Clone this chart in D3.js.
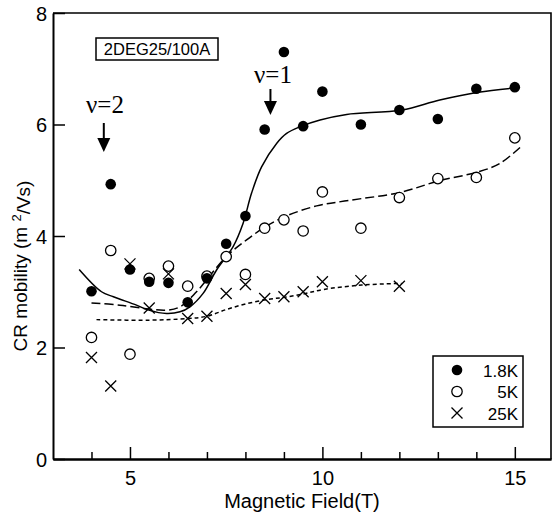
<!DOCTYPE html>
<html>
<head>
  <meta charset='utf-8'>
  <title>CR mobility vs magnetic field</title>
  <script src='https://cdn.jsdelivr.net/npm/d3@7/dist/d3.min.js'></script>
  <style>
    body { margin: 0; background: #fff; }
    text { font-family: 'Liberation Sans', Arial, sans-serif; fill: #000; }
  </style>
</head>
<body>
  <svg id='plot-area' width='553' height='512'></svg>
  <script>
    // measured points (field in T, mobility in m^2/Vs)
    const field18 = [4, 4.5, 5, 5.5, 6, 6.5, 7, 7.5, 8, 8.5, 9, 9.5, 10, 11, 12, 13, 14, 15];
    const mob18 = [3.01, 4.93, 3.40, 3.18, 3.16, 2.81, 3.24, 3.86, 4.36, 5.91, 7.30, 5.97, 6.59, 6.00, 6.26, 6.10, 6.64, 6.67];
    const field5 = [4, 4.5, 5, 5.5, 6, 6.5, 7, 7.5, 8, 8.5, 9, 9.5, 10, 11, 12, 13, 14, 15];
    const mob5 = [2.18, 3.74, 1.88, 3.24, 3.46, 3.10, 3.28, 3.63, 3.31, 4.14, 4.29, 4.09, 4.79, 4.14, 4.69, 5.03, 5.05, 5.76];
    const field25 = [4, 4.5, 5, 5.5, 6, 6.5, 7, 7.5, 8, 8.5, 9, 9.5, 10, 11, 12];
    const mob25 = [1.82, 1.31, 3.50, 2.71, 3.32, 2.52, 2.56, 2.97, 3.13, 2.88, 2.91, 3.00, 3.18, 3.20, 3.10];

    // guide curves
    const fitField18 = [3.68, 4.26, 4.57, 5.17, 5.49, 5.95, 6.3, 6.56, 6.9, 7.25, 7.68, 7.94, 8.16, 8.42, 8.81, 9.07, 9.42, 9.94, 10.63, 12.06, 13.05, 14.05, 15.06];
    const fitMob18 = [3.40, 3.00, 2.91, 2.76, 2.67, 2.61, 2.64, 2.73, 2.97, 3.39, 3.81, 4.23, 4.77, 5.24, 5.66, 5.84, 5.96, 6.08, 6.18, 6.26, 6.44, 6.58, 6.66];
    const fitField5 = [4.0, 4.74, 5.49, 5.95, 6.3, 6.73, 7.5, 8.03, 8.53, 9.03, 9.85, 10.71, 12.01, 13.03, 14.05, 14.61, 15.17];
    const fitMob5 = [2.80, 2.76, 2.69, 2.67, 2.73, 3.00, 3.63, 3.93, 4.17, 4.35, 4.54, 4.64, 4.78, 4.99, 5.15, 5.30, 5.61];
    const fitField25 = [4.13, 5.49, 6.49, 7.0, 7.5, 8.0, 8.55, 9.0, 9.5, 10.02, 11.02, 12.06];
    const fitMob25 = [2.50, 2.49, 2.52, 2.56, 2.68, 2.78, 2.86, 2.90, 2.96, 3.04, 3.12, 3.15];

    const majorX = [5, 10, 15];
    const minorX = [4, 6, 7, 8, 9, 11, 12, 13, 14];
    const ticksY = [0, 2, 4, 6, 8];
    const legendLabels = ['1.8K', '5K', '25K'];

    const svg = d3.select('#plot-area');
    const x = d3.scaleLinear().domain([3, 15.94]).range([53, 551]);
    const y = d3.scaleLinear().domain([0, 8]).range([459, 13]);

    // frame
    svg.append('path')
        .attr('d', `M${x(3)},${y(8)}H${x(15.94)}V${y(0)}`)
        .attr('fill', 'none').attr('stroke', '#000').attr('stroke-width', 1.6);

    const xMajor = svg.append('g')
        .attr('transform', `translate(0,${y(0)})`)
        .call(d3.axisBottom(x).tickValues(majorX).tickSizeInner(-12).tickSizeOuter(0).tickPadding(12));
    const xMinor = svg.append('g')
        .attr('transform', `translate(0,${y(0)})`)
        .call(d3.axisBottom(x).tickValues(minorX).tickSizeInner(-7).tickSizeOuter(0).tickFormat(''));
    const yAxis = svg.append('g')
        .attr('transform', `translate(${x(3)},0)`)
        .call(d3.axisLeft(y).tickValues(ticksY).tickSizeInner(-12).tickSizeOuter(0).tickPadding(6));
    [xMajor, xMinor, yAxis].forEach((a) => {
        a.attr('font-size', null).attr('font-family', null);
        a.select('.domain').attr('stroke-width', 2);
        a.selectAll('.tick line').attr('stroke-width', 1.5);
        a.selectAll('text').style('font-size', '20px');
    });
    yAxis.selectAll('text').attr('dx', '0').attr('dy', '0.36em');

    // axis titles
    svg.append('text')
        .attr('x', 302).attr('y', 508)
        .attr('text-anchor', 'middle')
        .style('font-size', '20px')
        .text('Magnetic Field(T)');
    const yt = svg.append('text')
        .attr('transform', 'translate(27,266) rotate(-90)')
        .attr('text-anchor', 'middle')
        .style('font-size', '19px');
    yt.append('tspan').text('CR mobility (m ');
    yt.append('tspan').attr('dy', '-0.45em').style('font-size', '13px').text('2');
    yt.append('tspan').attr('dy', '0.45em').text('/Vs)');

    // fitted curves
    const line = d3.line().x((d) => x(d[0])).y((d) => y(d[1])).curve(d3.curveCatmullRom);
    const curves = [
        { xs: fitField18, ys: fitMob18, dash: null },
        { xs: fitField5, ys: fitMob5, dash: '9,4' },
        { xs: fitField25, ys: fitMob25, dash: '4,3' }
    ];
    curves.forEach((c) => {
        svg.append('path')
            .datum(d3.zip(c.xs, c.ys))
            .attr('fill', 'none')
            .attr('stroke', '#000')
            .attr('stroke-width', 1.5)
            .attr('stroke-dasharray', c.dash)
            .attr('d', line);
    });

    // markers
    const drawCross = (g, s) => g.append('path')
        .attr('d', `M${-s},${-s}L${s},${s}M${-s},${s}L${s},${-s}`)
        .attr('stroke', '#000').attr('stroke-width', 1.3).attr('fill', 'none');

    svg.append('g').selectAll('circle')
        .data(d3.zip(field5, mob5)).join('circle')
        .attr('cx', (d) => x(d[0])).attr('cy', (d) => y(d[1])).attr('r', 5.2)
        .attr('fill', '#fff').attr('stroke', '#000').attr('stroke-width', 1.3);
    svg.append('g').selectAll('g')
        .data(d3.zip(field25, mob25)).join('g')
        .attr('transform', (d) => `translate(${x(d[0])},${y(d[1])})`)
        .each(function () { drawCross(d3.select(this), 5.5); });
    svg.append('g').selectAll('circle')
        .data(d3.zip(field18, mob18)).join('circle')
        .attr('cx', (d) => x(d[0])).attr('cy', (d) => y(d[1])).attr('r', 5.3)
        .attr('fill', '#000');

    // sample label
    svg.append('rect')
        .attr('x', 96).attr('y', 38).attr('width', 122).attr('height', 22)
        .attr('fill', '#fff').attr('stroke', '#000').attr('stroke-width', 1.5);
    svg.append('text')
        .attr('x', 157).attr('y', 55).attr('text-anchor', 'middle')
        .style('font-size', '16.5px')
        .text('2DEG25/100A');

    // filling factor arrows
    const arrows = [
        { label: 'ν=2', xv: 4.32, tx: 105, ty: 113, top: 123, tip: 152 },
        { label: 'ν=1', xv: 8.65, tx: 273, ty: 83, top: 89, tip: 115 }
    ];
    arrows.forEach((a) => {
        const cx = x(a.xv);
        svg.append('text')
            .attr('x', a.tx).attr('y', a.ty).attr('text-anchor', 'middle')
            .style('font-family', "'Liberation Serif', 'DejaVu Serif', serif")
            .style('font-size', '25px')
            .text(a.label);
        svg.append('line')
            .attr('x1', cx).attr('x2', cx).attr('y1', a.top).attr('y2', a.tip - 10)
            .attr('stroke', '#000').attr('stroke-width', 2);
        svg.append('path')
            .attr('d', `M${cx - 6.5},${a.tip - 14}L${cx + 6.5},${a.tip - 14}L${cx},${a.tip}Z`)
            .attr('fill', '#000');
    });

    // legend
    const lg = svg.append('g');
    lg.append('rect')
        .attr('x', 433).attr('y', 356).attr('width', 90).attr('height', 71)
        .attr('fill', '#fff').attr('stroke', '#000').attr('stroke-width', 1.5);
    legendLabels.forEach((lab, i) => {
        const ry = 370 + i * 21.5;
        if (i === 0) {
            lg.append('circle').attr('cx', 457).attr('cy', ry).attr('r', 5.3).attr('fill', '#000');
        } else if (i === 1) {
            lg.append('circle').attr('cx', 457).attr('cy', ry).attr('r', 5.2)
                .attr('fill', '#fff').attr('stroke', '#000').attr('stroke-width', 1.3);
        } else {
            drawCross(lg.append('g').attr('transform', `translate(457,${ry})`), 5.5);
        }
        lg.append('text')
            .attr('x', 518).attr('y', ry + 6.5).attr('text-anchor', 'end')
            .style('font-size', '17px')
            .text(lab);
    });
  </script>
</body>
</html>
